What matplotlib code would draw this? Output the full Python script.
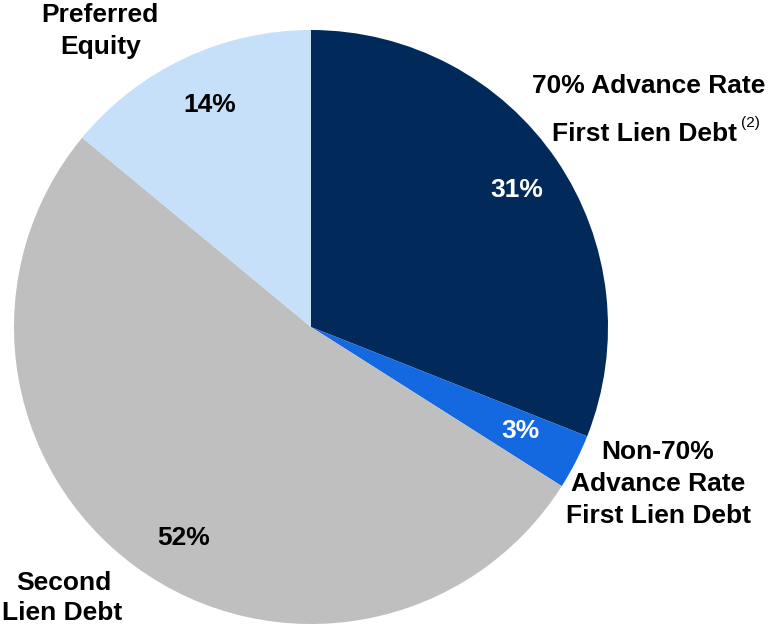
import matplotlib
matplotlib.use('Agg')
import matplotlib.pyplot as plt

plt.rcParams['font.family'] = ['Liberation Sans', 'DejaVu Sans']

# Datos
categorias = ['70% Advance Rate First Lien Debt',
              'Non-70% Advance Rate First Lien Debt',
              'Second Lien Debt',
              'Preferred Equity']
valores = [31, 3, 52, 14]
cores = ['#012a5b', '#1569e0', '#bfbfbf', '#c6e0fa']
cor_pct = ['white', 'white', 'black', 'black']

W, H = 772, 626
fig = plt.figure(figsize=(W / 100, H / 100), dpi=100)

# pie: centro (311, 327), raio 297 px
cx, cy, r = 311, 327, 297
ax = fig.add_axes([(cx - r) / W, (H - cy - r) / H, 2 * r / W, 2 * r / H])
ax.pie(valores, colors=cores, startangle=90, counterclock=False,
       wedgeprops=dict(linewidth=0))
ax.set_xlim(-1, 1)
ax.set_ylim(-1, 1)
ax.axis('off')


def px(x, y):
    return x / W, 1 - y / H


fs = 19
# porcentagens
pos_pct = [(517, 190), (520, 431), (184, 538), (210, 105)]
for v, (x, y), c in zip(valores, pos_pct, cor_pct):
    fig.text(*px(x, y), '%d%%' % v, ha='center', va='center',
             fontsize=fs, fontweight='bold', color=c)

# rótulos (uma linha por vez, na linha de base)
rotulos = [
    ('70% Advance Rate', 649, 93),
    ('First Lien Debt', 645, 141),
    ('Non-70%', 658, 459),
    ('Advance Rate', 658, 491),
    ('First Lien Debt', 658, 523),
    ('Second', 64, 590),
    ('Lien Debt', 62, 620),
    ('Preferred', 100, 22),
    ('Equity', 101, 54),
]
for txt, x, y in rotulos:
    fig.text(*px(x, y), txt, ha='center', va='baseline',
             fontsize=fs, fontweight='bold', color='black')

fig.text(*px(741, 127), '(2)', ha='left', va='baseline', fontsize=11)

fig.savefig('out.png', dpi=100)
